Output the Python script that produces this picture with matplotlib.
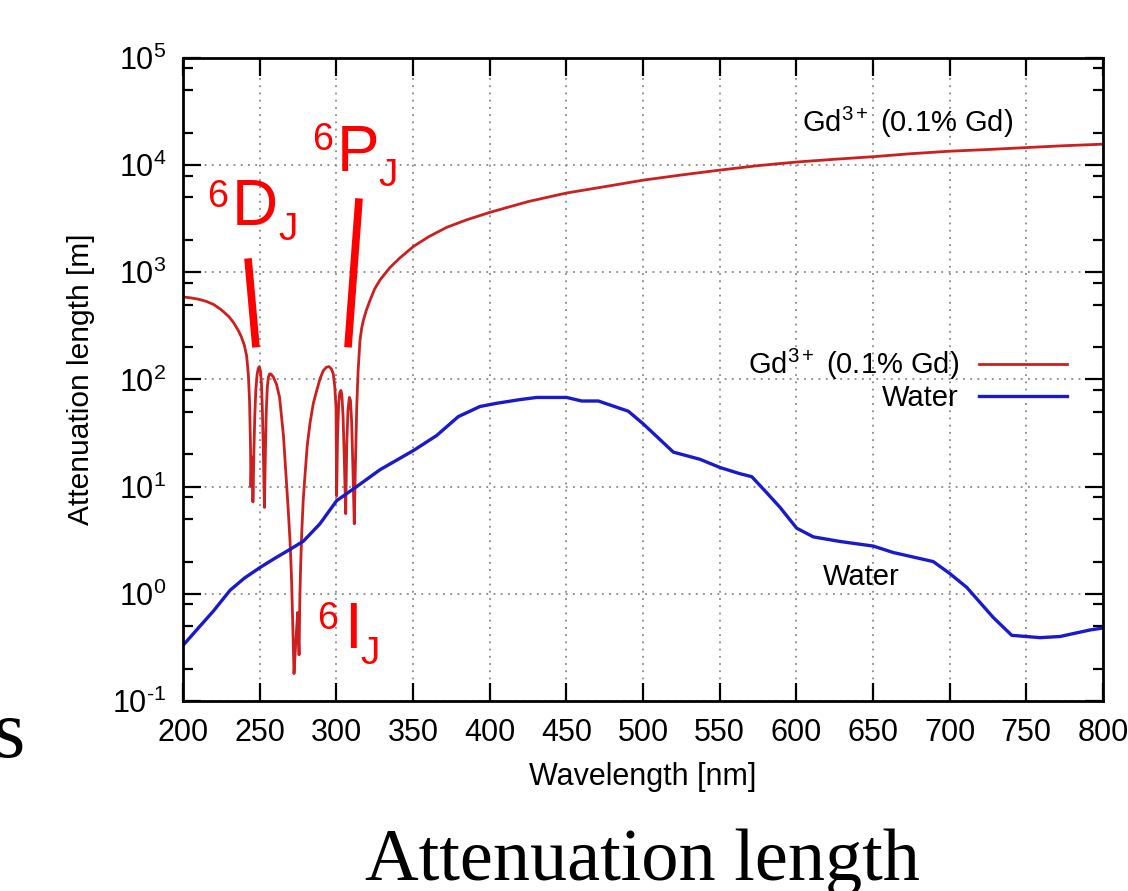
import matplotlib
matplotlib.use("Agg")
import matplotlib.pyplot as plt
from matplotlib.ticker import LogLocator, NullFormatter, MultipleLocator, FuncFormatter
import numpy as np

plt.rcParams['font.family'] = ['Liberation Sans', 'DejaVu Sans']
plt.rcParams['mathtext.fontset'] = 'custom'
plt.rcParams['mathtext.rm'] = 'Liberation Sans'
plt.rcParams['mathtext.it'] = 'Liberation Sans:italic'
plt.rcParams['mathtext.bf'] = 'Liberation Sans:bold'

# Gd3+ (0.1% Gd) attenuation length [m] vs wavelength [nm]
gd_wl = [200, 205, 210, 215, 220, 225, 230, 233, 236, 238, 240, 241.5, 242.6,
         243.4, 244.0, 244.3, 244.8, 245.3, 245.6, 246.2, 246.8, 247.5, 248.3,
         249.0, 249.8, 250.5, 251.2, 251.8, 252.4, 253.1, 253.7, 254.3, 255.0,
         255.7, 256.5, 257.5, 259.0, 261.0, 263.0, 265.5, 267.0, 268.5, 269.8,
         270.7, 271.3, 272.0, 272.4, 273.1, 274.0, 274.8, 275.7, 276.2, 276.7,
         277.4, 278.4, 279.6, 281.0, 282.8, 285.0, 287.2, 289.5, 291.5, 293.5,
         295.2, 296.7, 298.0, 299.0, 299.8, 300.2, 300.8, 301.6, 302.3, 303.0,
         303.6, 304.4, 305.2, 306.1, 306.8, 307.6, 308.5, 309.2, 310.0, 310.8,
         311.7, 312.4, 313.3, 314.2, 315.4, 316.5, 317.6, 319.5, 322.0, 325.0,
         328.5, 335.0, 341.5, 350.2, 360.0, 372.0, 385.0, 400.2, 425.0, 450.2,
         475.0, 500.2, 525.0, 550.2, 575.0, 600.2, 625.0, 650.2, 675.0, 700.2,
         725.0, 750.2, 775.0, 800]
gd_len = [589, 578, 562, 537, 501, 447, 385, 339, 288, 251, 209, 166, 112,
          63, 25, 10, 19, 17, 7.2, 20, 45, 80, 110,
          126, 132, 120, 90, 50, 22, 6.4, 20, 50, 85,
          105, 113, 112, 105, 90, 68, 30, 14, 6.5, 3.1,
          1.5, 0.74, 0.3, 0.18, 0.27, 0.45, 0.67, 0.27, 0.9, 1.77,
          3.6, 7.5, 13, 24, 39, 60, 79, 103, 121, 130,
          132, 126, 113, 85, 55, 8.2, 30, 62, 76, 79,
          72, 45, 18, 5.6, 25, 52, 68, 64, 40, 15,
          4.5, 15, 55, 120, 230, 300, 355, 440, 550, 700,
          850, 1110, 1365, 1740, 2140, 2630, 3090, 3630, 4570, 5500,
          6300, 7250, 8100, 9000, 9900, 10700, 11350, 12000, 12800, 13500,
          14000, 14600, 15200, 15700]

# pure water attenuation length [m]
water_wl = [200, 210, 219.8, 230.7, 240, 250.2, 260, 269.8, 278.5, 289.3, 300.2,
            313.2, 328.5, 350.2, 365.4, 379.5, 393.7, 404.6, 420, 430.7, 450.2,
            460, 470.9, 490.4, 500.2, 519.8, 537.2, 550.2, 563.3, 570.9, 580,
            589.4, 600.2, 611.1, 628.5, 650.2, 663.2, 689.3, 700, 711.1, 728.5,
            740.5, 759, 772, 791.5, 800]
water_len = [0.33, 0.48, 0.69, 1.08, 1.4, 1.76, 2.15, 2.6, 3.1, 4.5, 7.4,
             10, 14.4, 21.7, 30, 45, 56, 60, 65, 68, 68,
             63, 63, 50.6, 38.5, 21, 18, 15.1, 13.2, 12.4, 9.0,
             6.4, 4.1, 3.4, 3.08, 2.79, 2.43, 2.0, 1.55, 1.15, 0.60,
             0.41, 0.39, 0.40, 0.46, 0.48]


def decade_label(v, pos):
    e = int(round(np.log10(v)))
    if e < 0:
        return r'$10^{\text{-}%d}$' % (-e)
    return r'$10^{%d}$' % e


fig = plt.figure(figsize=(11.28, 8.91), dpi=100)
ax = fig.add_axes([183/1128, 190/891, (1103-183)/1128, (701-58)/891])

ax.plot(gd_wl, gd_len, color='#cc1f1f', lw=2.0, label='Gd$^{3+}$ (0.1% Gd)')
ax.plot(water_wl, water_len, color='#1a1acc', lw=2.4, label='Water')

ax.set_yscale('log')
ax.set_xlim(200, 800)
ax.set_ylim(0.1, 1e5)
ax.xaxis.set_major_locator(MultipleLocator(50))
ax.yaxis.set_major_locator(LogLocator(base=10, numticks=10))
ax.yaxis.set_major_formatter(FuncFormatter(decade_label))
ax.yaxis.set_minor_locator(LogLocator(base=10, subs=(2, 5, 8), numticks=10))
ax.yaxis.set_minor_formatter(NullFormatter())

ax.grid(True, which='major', ls=(0, (1, 3)), color='#888888', lw=1.3)
ax.tick_params(which='both', direction='in', top=True, right=True,
               labelsize=22, width=1.6, color='black')
ax.tick_params(which='major', length=13, pad=12)
ax.tick_params(which='minor', length=7)
for s in ax.spines.values():
    s.set_linewidth(2.0)

ax.set_xlabel('Wavelength [nm]', fontsize=22, labelpad=10)
ax.set_ylabel('Attenuation length [m]', fontsize=21.5, labelpad=12)

leg = ax.legend(loc='center right', bbox_to_anchor=(0.989, 0.5), frameon=False,
                markerfirst=False, fontsize=21, handlelength=3.0,
                handletextpad=0.7, labelspacing=0.05)

# curve labels
ax.text(603.7, 10**4.31, 'Gd$^{3+}$ (0.1% Gd)', fontsize=21, va='baseline')
ax.text(617.4, 10**0.084, 'Water', fontsize=21, va='baseline')

# term symbols of the Gd3+ absorption groups
red = '#ff0000'
terms = [('D', 215.7, 3.61, 232.0, 3.44, 262.0, 3.30),
         ('P', 284.1, 4.14, 300.4, 3.95, 327.2, 3.81),
         ('I', 287.4, -0.33, 305.0, -0.505, 315.4, -0.654)]
for letter, x6, y6, xl, yl, xj, yj in terms:
    ax.text(x6, 10**y6, '6', color=red, fontsize=27, va='baseline')
    ax.text(xl, 10**yl, letter, color=red, fontsize=46, va='baseline')
    ax.text(xj, 10**yj, 'J', color=red, fontsize=28, va='baseline')

pointers = [((242.4, 247.6), (10**3.13, 10**2.30)),
            ((314.8, 307.6), (10**3.69, 10**2.30))]
for xs, ys in pointers:
    ax.plot(xs, ys, color=red, lw=5.5, solid_capstyle='butt')

fig.text(365/1128, 11/891, 'Attenuation length', fontsize=53.5,
         family='Liberation Serif', ha='left', va='baseline')
fig.text(25/1128, 134/891, 's', fontsize=60, family='Liberation Serif',
         ha='right', va='baseline')

fig.savefig('out.png', dpi=100)
